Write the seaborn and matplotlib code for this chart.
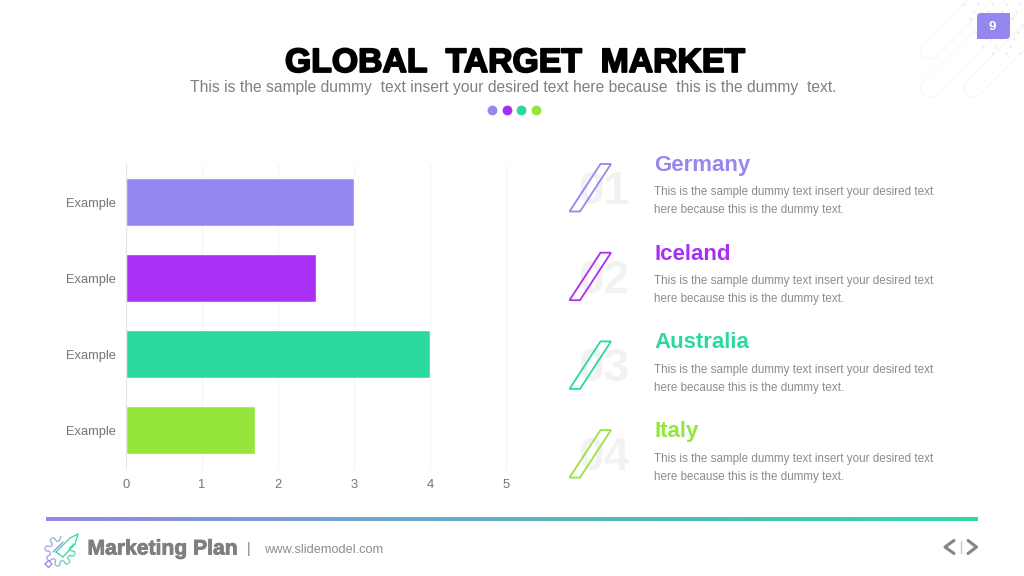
import numpy as np
import pandas as pd
import matplotlib
matplotlib.use("Agg")
import matplotlib.pyplot as plt
import matplotlib.patheffects as pe
from matplotlib.collections import LineCollection
from matplotlib.colors import LinearSegmentedColormap
from matplotlib.patches import Polygon, PathPatch
from matplotlib.path import Path
import seaborn as sns

categories = ["Cat A", "Cat B", "Cat C", "Cat D"]
tick_labels = ["Example", "Example", "Example", "Example"]
values = [3.0, 2.5, 4.0, 1.7]
colors = ["#9488F0", "#A92FF5", "#2BD99F", "#96E53D"]
countries = ["Germany", "Iceland", "Australia", "Italy"]
numbers = ["01", "02", "03", "04"]
title = "GLOBAL  TARGET  MARKET"
subtitle = "This is the sample dummy  text insert your desired text here because  this is the dummy  text."
body1 = "This is the sample dummy text insert your desired text"
body2 = "here because this is the dummy text."

sns.set_theme(style="white")
plt.rcParams["font.family"] = ["Liberation Sans", "DejaVu Sans"]

W, H = 1024, 576
fig = plt.figure(figsize=(W / 100, H / 100), dpi=100, facecolor="white")

# overlay in pixel coordinates
bg = fig.add_axes([0, 0, 1, 1])
bg.set_xlim(0, W)
bg.set_ylim(H, 0)
bg.axis("off")

# corner decoration
for (x0, y0, x1, y1) in [(930, 50, 990, -10), (930, 88, 1024, -6), (973, 88, 1024, 37)]:
    bg.plot([x0, x1], [y0, y1], color="#F6F6F7", lw=14, solid_capstyle="round", zorder=1)
    bg.plot([x0, x1], [y0, y1], color="white", lw=12.6, solid_capstyle="round", zorder=1.1)
for i, y in enumerate(range(4, 56, 7)):
    xs = np.arange(964 + (i % 2) * 7 + i * 3, 1024, 14)
    bg.scatter(xs, [y] * len(xs), s=2.0, color="#E2E2E6", lw=0, zorder=1.2)

# page tag: two rounded corners
bx0, by0, bx1, by1, rr = 977, 13, 1010, 39, 4
tag = Path([(bx0 + rr, by0), (bx1, by0), (bx1, by1 - rr), (bx1, by1), (bx1 - rr, by1), (bx0, by1),
            (bx0, by0 + rr), (bx0, by0), (bx0 + rr, by0)],
           [Path.MOVETO, Path.LINETO, Path.LINETO, Path.CURVE3, Path.CURVE3, Path.LINETO,
            Path.LINETO, Path.CURVE3, Path.CURVE3])
bg.add_patch(PathPatch(tag, fc="#9488F0", ec="none", zorder=2))
bg.text(992.5, 26.5, "9", color="white", fontsize=9.5, fontweight="bold", ha="center", va="center", zorder=3)

# title block
bg.text(515, 72, title, fontsize=24.3, fontweight="bold", color="black", ha="center", va="baseline",
        path_effects=[pe.withStroke(linewidth=1.3, foreground="black")])
bg.text(513.5, 87.5, subtitle, fontsize=11.25, color="#808080", ha="center", va="center")
for x, c in zip([492, 506.5, 521, 535.5], colors):
    bg.scatter([x], [110], s=50, color=c, lw=0)

# list on the right
for i, (name, num, c) in enumerate(zip(countries, numbers, colors)):
    dy = i * 88.7
    bg.text(604, 192 + dy, num, fontsize=33, fontweight="bold", color="#F2F2F3", ha="center", va="center", zorder=1)
    bg.add_patch(Polygon([(569.5, 211.5 + dy), (580, 211.5 + dy), (611, 164 + dy), (600.5, 164 + dy)],
                         closed=True, fc="none", ec=c, lw=1.3, zorder=2))
    bg.text(654.5, 171 + dy, name, fontsize=16, fontweight="bold", color=c, ha="left", va="baseline")
    bg.text(654.5, 192.5 + dy, body1, fontsize=8.4, color="#8C8C8C", ha="left", va="center")
    bg.text(654.5, 210.5 + dy, body2, fontsize=8.4, color="#8C8C8C", ha="left", va="center")

# footer
grad = LinearSegmentedColormap.from_list("g", ["#9488E6", "#2BD9A5"])
bg.imshow(np.linspace(0, 1, 256)[None, :], extent=(46, 978, 521, 517.5), cmap=grad, aspect="auto", zorder=2)
bg.set_xlim(0, W)
bg.set_ylim(H, 0)
bg.text(87.5, 554.5, "Marketing Plan", fontsize=15.2, fontweight="bold", color="#7F7F7F", ha="left", va="baseline",
        path_effects=[pe.withStroke(linewidth=0.6, foreground="#7F7F7F")])
bg.text(249, 549, "|", fontsize=10, color="#7F7F7F", ha="center", va="center")
bg.text(264.5, 550, "www.slidemodel.com", fontsize=9.2, color="#8C8C8C", ha="left", va="center")

# logo sketch: gear outline and rocket
t = np.linspace(np.radians(-30), np.radians(275), 300)
r = 12.5 + 2.6 * np.tanh(3 * np.sin(8 * t))
gx, gy = 60 + r * np.cos(t), 551 + r * np.sin(t)
pts = np.column_stack([gx, gy])
segs = np.stack([pts[:-1], pts[1:]], axis=1)
lc = LineCollection(segs, cmap=LinearSegmentedColormap.from_list("l", ["#9488E6", "#2BD9A5"]),
                    array=(gx[:-1] - 44) / 34, linewidths=0.9, zorder=3)
bg.add_collection(lc)
bg.plot([56, 70, 78, 75, 63, 56], [552, 538, 534, 544, 557, 552], color="#2BD9A5", lw=0.9, zorder=4)
bg.plot([53, 63], [552, 542], color="#9488E6", lw=0.9, zorder=4)
bg.plot([45, 48.5, 52, 48.5, 45], [564, 560.5, 564, 567.5, 564], color="#9488E6", lw=0.9, zorder=4)
bg.set_xlim(0, W)
bg.set_ylim(H, 0)

# arrows
bg.plot([954, 945, 954], [540.5, 547, 553.5], color="#858585", lw=2.2, zorder=3)
bg.plot([968, 976.5, 968], [540.5, 547, 553.5], color="#858585", lw=2.2, zorder=3)
bg.plot([961, 961], [541, 553], color="#C8C8C8", lw=1, zorder=3)

# bar chart
ax = fig.add_axes([126 / W, 1 - 468 / H, 380 / W, 304 / H], facecolor="none")
df = pd.DataFrame({"cat": categories, "value": values})
sns.barplot(data=df, y="cat", x="value", hue="cat", palette=colors, dodge=False, legend=False,
            width=0.635, saturation=1, ax=ax)
ax.set_xlim(0, 5)
ax.set_ylim(3.5, -0.5)
ax.set_xlabel("")
ax.set_ylabel("")
ax.set_xticks(range(6))
ax.set_yticks(range(4))
ax.set_yticklabels(tick_labels)
ax.tick_params(axis="both", length=0, labelsize=9.3, labelcolor="#757575")
ax.tick_params(axis="x", pad=8)
ax.tick_params(axis="y", pad=7.5)
ax.xaxis.grid(True, color="#F4F4F4", lw=0.8, clip_on=False)
ax.yaxis.grid(False)
ax.set_axisbelow(True)
for s in ["top", "right", "bottom"]:
    ax.spines[s].set_visible(False)
ax.spines["left"].set_color("#E4E4E4")
ax.spines["left"].set_linewidth(0.8)

fig.savefig("out.png", dpi=100, facecolor="white")
